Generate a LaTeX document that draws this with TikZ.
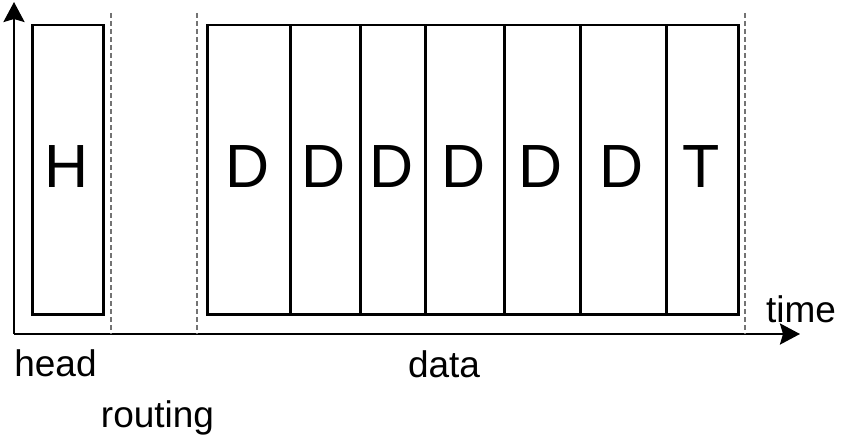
\documentclass[tikz,border=0pt]{standalone}
\usepackage{fontspec}
\setmainfont{Liberation Sans}
\usetikzlibrary{arrows.meta}
\begin{document}
\begin{tikzpicture}[x=1pt,y=-1pt,
  cell/.style={draw=black,line width=2.5pt,inner sep=0pt,anchor=north west},
  big/.style={font=\fontsize{61}{61}\selectfont,anchor=base},
  lab/.style={font=\fontsize{37}{37}\selectfont,anchor=base,inner sep=0pt},
  axis/.style={line width=2.6pt,-{Stealth[length=20pt,width=21pt,inset=3pt]}},
  sep/.style={draw=gray!90!black,line width=1.2pt,dash pattern=on 5pt off 3pt}]
\useasboundingbox (0,0) rectangle (842,436);
% axes
\coordinate (o) at (14,334);
\coordinate (ytip) at (14,2);
\coordinate (xtip) at (800,334);
\draw[axis] (o) -- (ytip);
\draw[axis] (o) -- (xtip);
% separators
\coordinate (s1t) at (111,13); \coordinate (s1b) at (111,334);
\coordinate (s2t) at (197,13); \coordinate (s2b) at (197,334);
\coordinate (s3t) at (745,13); \coordinate (s3b) at (745,334);
\draw[sep] (s1t) -- (s1b);
\draw[sep] (s2t) -- (s2b);
\draw[sep] (s3t) -- (s3b);
% head cell
\node[cell,minimum width=71pt,minimum height=289pt] (h) at (31,24) {};
% data cells
\node[cell,minimum width=83pt,minimum height=289pt] (d1) at (206,24) {};
\node[cell,minimum width=70pt,minimum height=289pt] (d2) at (289,24) {};
\node[cell,minimum width=65pt,minimum height=289pt] (d3) at (359,24) {};
\node[cell,minimum width=79pt,minimum height=289pt] (d4) at (424,24) {};
\node[cell,minimum width=76pt,minimum height=289pt] (d5) at (503,24) {};
\node[cell,minimum width=86pt,minimum height=289pt] (d6) at (579,24) {};
\node[cell,minimum width=72pt,minimum height=289pt] (t) at (665,24) {};
% letters
\node[big] (hl) at (66.5,187) {H};
\node[big] (d1l) at (247.5,187) {D};
\node[big] (d2l) at (324,187) {D};
\node[big] (d3l) at (391.5,187) {D};
\node[big] (d4l) at (463.5,187) {D};
\node[big] (d5l) at (541,187) {D};
\node[big] (d6l) at (622,187) {D};
\node[big] (tl) at (701,187) {T};
% labels
\node[lab] (time) at (801,322) {time};
\node[lab] (head) at (55.5,376) {head};
\node[lab] (data) at (444,377) {data};
\node[lab] (routing) at (157.5,427) {routing};
\end{tikzpicture}
\end{document}
